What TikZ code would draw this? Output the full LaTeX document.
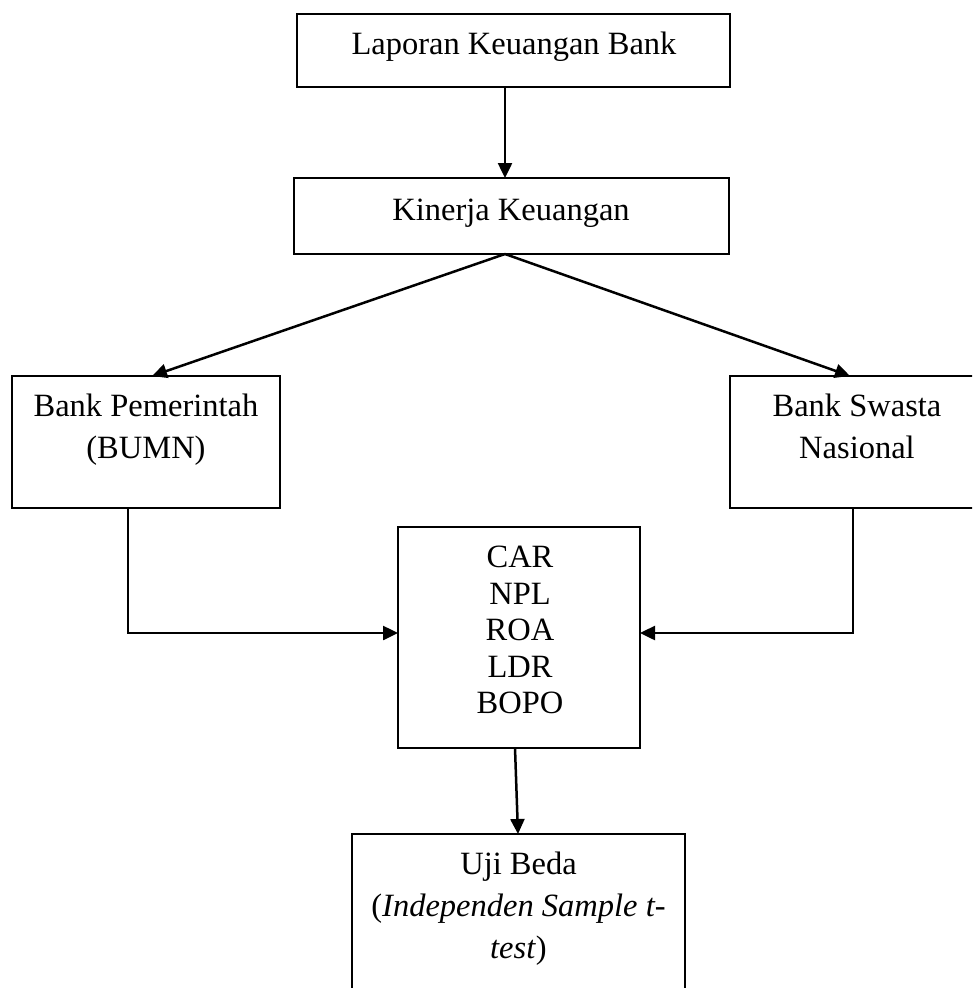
\documentclass[tikz,border=0pt]{standalone}
\usepackage{fontspec}
\setmainfont{Liberation Serif}
\usetikzlibrary{arrows.meta}
\tikzset{
  box/.style={draw=black, line width=2.2pt, inner sep=0pt, outer sep=0pt},
  lbl/.style={anchor=north, align=center, inner sep=0pt,
              font=\fontsize{32.5}{42}\selectfont},
  arrow/.style={-{Triangle[length=15pt,width=14pt]}, line width=2.5pt, draw=black}
}

\begin{document}
\begin{tikzpicture}[x=1pt,y=-1pt]
    \useasboundingbox (0,0) rectangle (972,988);
    \clip (0,0) rectangle (972,988);

    % Top: report and performance
    \node[box, minimum width=433pt, minimum height=73pt] (lap) at (513.5,50.5) {};
    \node[lbl] (lapT) at (514,32) {Laporan Keuangan Bank};
    \node[box, minimum width=435pt, minimum height=76pt] (kin) at (511.5,216) {};
    \node[lbl] (kinT) at (511,199) {Kinerja Keuangan};

    % Middle: the two bank groups
    \node[box, minimum width=268pt, minimum height=132pt] (pem) at (146,442) {};
    \node[lbl] (pemT) at (146,394) {Bank Pemerintah\\(BUMN)};
    \node[box, minimum width=260pt, minimum height=132pt] (swa) at (860,442) {};
    \node[lbl] (swaT) at (857,394) {Bank Swasta\\Nasional};

    % Ratios and test
    \node[box, minimum width=242pt, minimum height=221pt] (rasio) at (519,637.5) {};
    \node[lbl, font=\fontsize{32.5}{36.5}\selectfont] (rasioT) at (520,546)
      {CAR\\NPL\\ROA\\LDR\\BOPO};
    \node[box, minimum width=333pt, minimum height=176pt] (uji) at (518.5,922) {};
    \node[lbl] (ujiT) at (518.5,852)
      {Uji Beda\\(\textit{Independen Sample t-}\\\textit{test})};

    % Connectors
    \coordinate (apex) at ([xshift=-6.5pt]kin.south);
    \draw[arrow] ([xshift=-8.5pt]lap.south) -- ([xshift=-6.5pt]kin.north);
    \draw[arrow] (apex) -- ([xshift=6pt]pem.north);
    \draw[arrow] (apex) -- ([xshift=-10pt]swa.north);
    \draw[arrow] ([xshift=-18pt]pem.south) |- ([yshift=4.5pt]rasio.west);
    \draw[arrow] ([xshift=-7pt]swa.south) |- ([yshift=4.5pt]rasio.east);
    \draw[arrow] ([xshift=-4pt]rasio.south) -- ([xshift=-0.5pt]uji.north);
  \end{tikzpicture}
\end{document}
